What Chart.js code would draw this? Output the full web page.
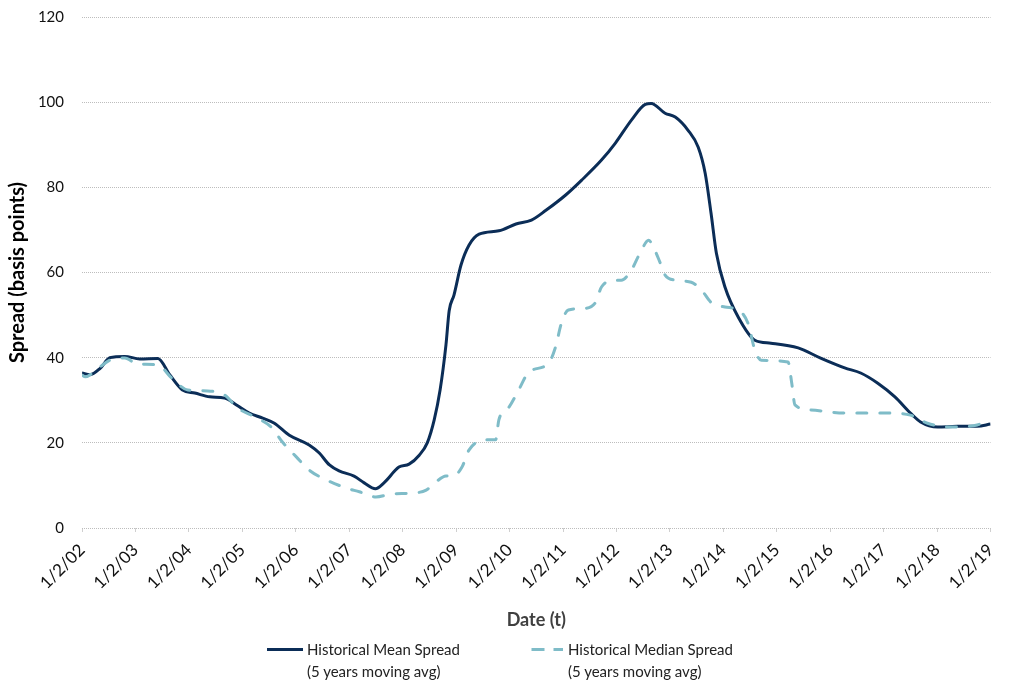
<!DOCTYPE html>
<html>
<head>
<meta charset="utf-8">
<script src="https://cdn.jsdelivr.net/npm/chart.js@4"></script>
<style>
  body { margin: 0; background: #fff; font-family: Lato, sans-serif; }
  .wrap { position: relative; width: 1013px; height: 686px; }
  .legend { position: absolute; top: 638px; left: 0; width: 1013px; height: 48px; }
  .item { position: absolute; top: 0; display: flex; align-items: flex-start; }
  .item svg { margin-top: 9px; margin-right: 4px; }
  .label { font-size: 15px; line-height: 22px; color: #222; }
</style>
</head>
<body>
<div class="wrap">
  <canvas id="chart" width="1013" height="686"></canvas>
  <div class="legend">
    <div class="item" style="left:267px">
      <svg width="36" height="5"><line x1="0" y1="2.5" x2="36" y2="2.5" stroke="#0b2d57" stroke-width="3"/></svg>
      <div class="label">Historical Mean Spread<br>(5 years moving avg)</div>
    </div>
    <div class="item" style="left:530px">
      <svg width="34" height="5"><line x1="1.5" y1="2.5" x2="33" y2="2.5" stroke="#7fbcc8" stroke-width="3" stroke-dasharray="13 9"/></svg>
      <div class="label">Historical Median Spread<br>(5 years moving avg)</div>
    </div>
  </div>
</div>
<script>
const tickLabels = ["1/2/02", "1/2/03", "1/2/04", "1/2/05", "1/2/06", "1/2/07", "1/2/08", "1/2/09", "1/2/10",
  "1/2/11", "1/2/12", "1/2/13", "1/2/14", "1/2/15", "1/2/16", "1/2/17", "1/2/18", "1/2/19"];

// time in years (2002 = 1/2/02)
const meanX = [2002.00, 2002.15, 2002.34, 2002.52, 2002.80, 2003.08, 2003.42, 2003.64, 2003.88, 2004.11,
  2004.39, 2004.67, 2004.89, 2005.13, 2005.38, 2005.60, 2005.88, 2006.25, 2006.44, 2006.63,
  2006.81, 2007.09, 2007.28, 2007.49, 2007.65, 2007.93, 2008.12, 2008.31, 2008.46, 2008.59,
  2008.70, 2008.81, 2008.87, 2008.96, 2009.09, 2009.24, 2009.43, 2009.80, 2010.12, 2010.41,
  2010.68, 2011.05, 2011.35, 2011.72, 2011.98, 2012.28, 2012.54, 2012.65, 2012.91, 2013.10,
  2013.34, 2013.53, 2013.66, 2013.77, 2013.87, 2014.03, 2014.28, 2014.59, 2014.89, 2015.40,
  2015.82, 2016.27, 2016.57, 2016.89, 2017.21, 2017.50, 2017.69, 2018.01, 2018.38, 2018.75, 2019.00];
const meanY = [36.4, 36.0, 37.5, 40.0, 40.3, 39.7, 39.8, 36.0, 32.4, 31.7,
  30.8, 30.5, 28.9, 27.0, 25.8, 24.6, 21.8, 19.5, 17.6, 14.8,
  13.4, 12.2, 10.6, 9.2, 10.6, 14.3, 15.0, 17.1, 20.0, 25.4,
  32.4, 43.0, 51.0, 54.7, 61.7, 66.4, 69.0, 69.8, 71.4, 72.3,
  74.6, 78.2, 81.7, 86.4, 90.4, 95.8, 99.5, 99.7, 97.4, 96.5,
  93.4, 89.4, 83.3, 73.9, 64.5, 56.6, 49.5, 44.1, 43.4, 42.3,
  39.9, 37.6, 36.4, 34.0, 30.8, 27.0, 24.9, 23.7, 23.9, 23.9, 24.4];

const medianX = [2002.00, 2002.06, 2002.30, 2002.56, 2002.80, 2003.04, 2003.42, 2003.68, 2003.98, 2004.35,
  2004.67, 2004.91, 2005.23, 2005.54, 2005.75, 2006.01, 2006.25, 2006.57, 2006.94, 2007.19,
  2007.50, 2007.80, 2008.18, 2008.44, 2008.62, 2008.81, 2008.96, 2009.11, 2009.24, 2009.56,
  2009.74, 2009.80, 2009.99, 2010.17, 2010.36, 2010.73, 2010.86, 2010.97, 2011.10, 2011.42,
  2011.61, 2011.72, 2011.98, 2012.09, 2012.28, 2012.47, 2012.60, 2012.69, 2012.82, 2012.91,
  2013.10, 2013.40, 2013.59, 2013.77, 2014.03, 2014.28, 2014.46, 2014.59, 2014.71, 2015.21,
  2015.28, 2015.34, 2015.64, 2016.27, 2017.07, 2017.50, 2017.82, 2018.25, 2018.75, 2019.00];
const medianY = [35.9, 35.5, 37.5, 39.6, 39.9, 38.5, 38.3, 35.2, 32.4, 32.2,
  31.2, 28.2, 26.1, 23.7, 20.2, 16.7, 13.6, 11.3, 9.4, 8.5,
  7.3, 8.0, 8.2, 8.9, 10.8, 12.2, 12.3, 14.3, 18.3, 20.7,
  20.7, 25.4, 28.4, 32.4, 36.6, 38.7, 42.5, 48.1, 51.2, 51.6,
  53.0, 56.6, 58.2, 58.2, 60.6, 65.3, 67.6, 66.0, 62.2, 59.4,
  58.2, 57.7, 55.9, 53.0, 51.9, 51.2, 48.1, 41.8, 39.4, 39.0,
  34.0, 28.9, 27.7, 27.0, 27.0, 26.5, 24.6, 23.7, 24.2, 25.6];

const toPoints = (xs, ys) => xs.map((x, i) => ({ x: x, y: ys[i] }));

const ctx = document.getElementById("chart");
new Chart(ctx, {
  type: "line",
  data: {
    datasets: [
      {
        label: "Historical Median Spread (5 years moving avg)",
        data: toPoints(medianX, medianY),
        borderColor: "#7fbcc8",
        borderWidth: 3,
        borderDash: [10, 13],
        borderCapStyle: "round",
        pointRadius: 0,
        cubicInterpolationMode: "monotone",
      },
      {
        label: "Historical Mean Spread (5 years moving avg)",
        data: toPoints(meanX, meanY),
        borderColor: "#0b2d57",
        borderWidth: 3,
        pointRadius: 0,
        cubicInterpolationMode: "monotone",
      },
    ],
  },
  options: {
    responsive: false,
    devicePixelRatio: 1,
    animation: false,
    layout: { padding: { top: 0, right: 20, bottom: 54, left: 0 } },
    plugins: {
      legend: { display: false },
      tooltip: { enabled: false },
    },
    scales: {
      x: {
        type: "linear",
        min: 2002,
        max: 2019,
        afterFit: (scale) => { scale.height = 104; },
        afterBuildTicks: (scale) => {
          scale.ticks = tickLabels.map((t, i) => ({ value: 2002 + i }));
        },
        ticks: {
          minRotation: 45,
          maxRotation: 45,
          autoSkip: false,
          padding: 8,
          color: "#111",
          font: { family: "Lato", size: 17 },
          callback: (value) => tickLabels[Math.round(value - 2002)],
        },
        grid: {
          drawOnChartArea: false,
          drawTicks: true,
          tickLength: 4,
          color: "#d0d0d0",
        },
        border: { display: false },
        title: {
          display: true,
          text: "Date (t)",
          color: "#404040",
          font: { family: "Lato", size: 18, weight: "bold" },
          padding: { top: 4, bottom: 1 },
        },
      },
      y: {
        min: 0,
        max: 120,
        afterFit: (scale) => { scale.width = 82; },
        ticks: {
          stepSize: 20,
          padding: 8,
          color: "#111",
          font: { family: "Lato", size: 15 },
        },
        grid: {
          drawTicks: true,
          tickLength: 10,
          tickColor: "rgba(0,0,0,0)",
          color: "#bdbdbd",
          lineWidth: 1,
        },
        border: { display: false, dash: [1, 1] },
        title: {
          display: true,
          text: "Spread (basis points)",
          color: "#000",
          font: { family: "Lato", size: 20, weight: "bold" },
          padding: { top: 6, bottom: 4 },
        },
      },
    },
  },
});
</script>
</body>
</html>
